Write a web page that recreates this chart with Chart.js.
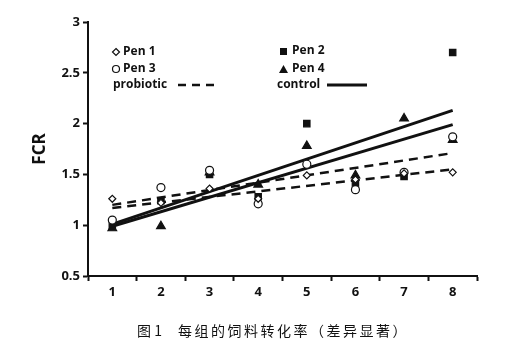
<!DOCTYPE html>
<html>
<head>
<meta charset="utf-8">
<script src="https://cdn.jsdelivr.net/npm/chart.js@4"></script>
<style>
  html, body { margin: 0; padding: 0; background: #fff; }
  #wrap { width: 505px; height: 361px; position: relative; }
</style>
</head>
<body>
<div id="wrap"><canvas id="fcrChart" width="505" height="361"></canvas></div>
<script>
// 数据
const categories = ["1", "2", "3", "4", "5", "6", "7", "8"];
const pen1 = [1.26, 1.22, 1.36, 1.26, 1.49, 1.45, 1.51, 1.52];
const pen2 = [1.00, 1.24, 1.50, 1.28, 2.00, 1.40, 1.48, 2.70];
const pen3 = [1.05, 1.37, 1.54, 1.21, 1.60, 1.35, 1.52, 1.87];
const pen4 = [0.97, 0.99, 1.52, 1.40, 1.78, 1.49, 2.05, 1.84];
// 趋势线端点
const probioticA = [1.20, 1.71];
const probioticB = [1.17, 1.55];
const controlA = [1.01, 2.13];
const controlB = [0.99, 1.99];
const yTicks = [0.5, 1, 1.5, 2, 2.5, 3];
const caption = "图 1";
const captionText = "每组的饲料转化率（差异显著）";

const INK = "#111";
const tickFont = { family: "'Open Sans', 'Liberation Sans', sans-serif", size: 13, weight: "bold" };

function endPoints(v) {
    return [{ x: categories[0], y: v[0] }, { x: categories[categories.length - 1], y: v[1] }];
}
function trend(label, v, dashed) {
    return {
        label: label, data: endPoints(v), borderColor: INK, borderWidth: dashed ? 2.5 : 3,
        borderDash: dashed ? [9, 6] : [], pointRadius: 0, fill: false, showLine: true
    };
}
function pts(label, data, style, r, filled) {
    return {
        label: label, data: data, showLine: false, pointStyle: style, pointRadius: r,
        pointBorderWidth: 1.2, pointBorderColor: INK, pointBackgroundColor: filled ? INK : "#fff"
    };
}

// 图例与图注
const extras = {
    id: "extras",
    afterDraw(chart) {
        const ctx = chart.ctx;
        ctx.save();
        ctx.fillStyle = INK;
        ctx.strokeStyle = INK;
        ctx.textBaseline = "middle";
        ctx.font = "bold 12px 'Open Sans', 'Liberation Sans', sans-serif";
        // markers
        ctx.lineWidth = 1.2;
        ctx.beginPath(); // diamond
        ctx.moveTo(116, 48.5); ctx.lineTo(119.5, 52); ctx.lineTo(116, 55.5); ctx.lineTo(112.5, 52); ctx.closePath();
        ctx.stroke();
        ctx.beginPath(); ctx.arc(116, 69, 3.5, 0, Math.PI * 2); ctx.stroke();
        ctx.fillRect(280, 48, 7, 7);
        ctx.beginPath(); ctx.moveTo(283.5, 65); ctx.lineTo(288, 73); ctx.lineTo(279, 73); ctx.closePath(); ctx.fill();
        ctx.fillText("Pen 1", 123, 52);
        ctx.fillText("Pen 3", 123, 69);
        ctx.fillText("Pen 2", 292, 51);
        ctx.fillText("Pen 4", 292, 69);
        ctx.fillText("probiotic", 113, 85);
        ctx.fillText("control", 277, 85);
        ctx.lineWidth = 2.5;
        ctx.setLineDash([8, 6]);
        ctx.beginPath(); ctx.moveTo(178, 85); ctx.lineTo(218, 85); ctx.stroke();
        ctx.setLineDash([]);
        ctx.lineWidth = 3;
        ctx.beginPath(); ctx.moveTo(327, 85); ctx.lineTo(367, 85); ctx.stroke();
        // caption
        ctx.font = "14px 'Noto Sans CJK SC', sans-serif";
        ctx.fillText(caption, 137, 331);
        ctx.letterSpacing = "2.5px";
        ctx.fillText(captionText, 178, 331);
        ctx.restore();
    }
};

document.addEventListener("DOMContentLoaded", function () {
    const ctx = document.getElementById("fcrChart").getContext("2d");
    new Chart(ctx, {
        type: "line",
        data: {
            labels: categories,
            datasets: [
                pts("Pen 1", pen1, "rectRot", 3.5, false),
                pts("Pen 3", pen3, "circle", 4, false),
                pts("Pen 2", pen2, "rect", 4.5, true),
                pts("Pen 4", pen4, "triangle", 5, true),
                trend("probiotic", probioticA, true),
                trend("probiotic", probioticB, true),
                trend("control", controlA, false),
                trend("control", controlB, false)
            ]
        },
        options: {
            responsive: false,
            animation: false,
            layout: { padding: { top: 22, right: 28, left: 0, bottom: 0 } },
            plugins: { legend: { display: false }, tooltip: { enabled: false } },
            elements: { line: { tension: 0 } },
            clip: false,
            scales: {
                x: {
                    type: "category",
                    offset: true,
                    grid: { offset: true, drawOnChartArea: false, color: INK, tickColor: INK, tickLength: 5, tickWidth: 2 },
                    border: { color: INK, width: 2 },
                    ticks: { color: INK, font: tickFont, padding: 3 },
                    afterFit(scale) { scale.height = 85; }
                },
                y: {
                    min: 0.5,
                    max: 3,
                    afterBuildTicks(scale) { scale.ticks = yTicks.map(v => ({ value: v })); },
                    grid: { drawOnChartArea: false, color: INK, tickColor: INK, tickLength: 5, tickWidth: 2 },
                    border: { color: INK, width: 2 },
                    ticks: { color: INK, font: tickFont, padding: 3, callback: v => String(v) },
                    title: {
                        display: true, text: "FCR", color: INK,
                        font: { family: "'Open Sans', 'Liberation Sans', sans-serif", size: 17, weight: "bold" },
                        padding: { top: 30, bottom: 8 }
                    },
                    afterFit(scale) { scale.width = 88; }
                }
            }
        },
        plugins: [extras]
    });
});
</script>
</body>
</html>
